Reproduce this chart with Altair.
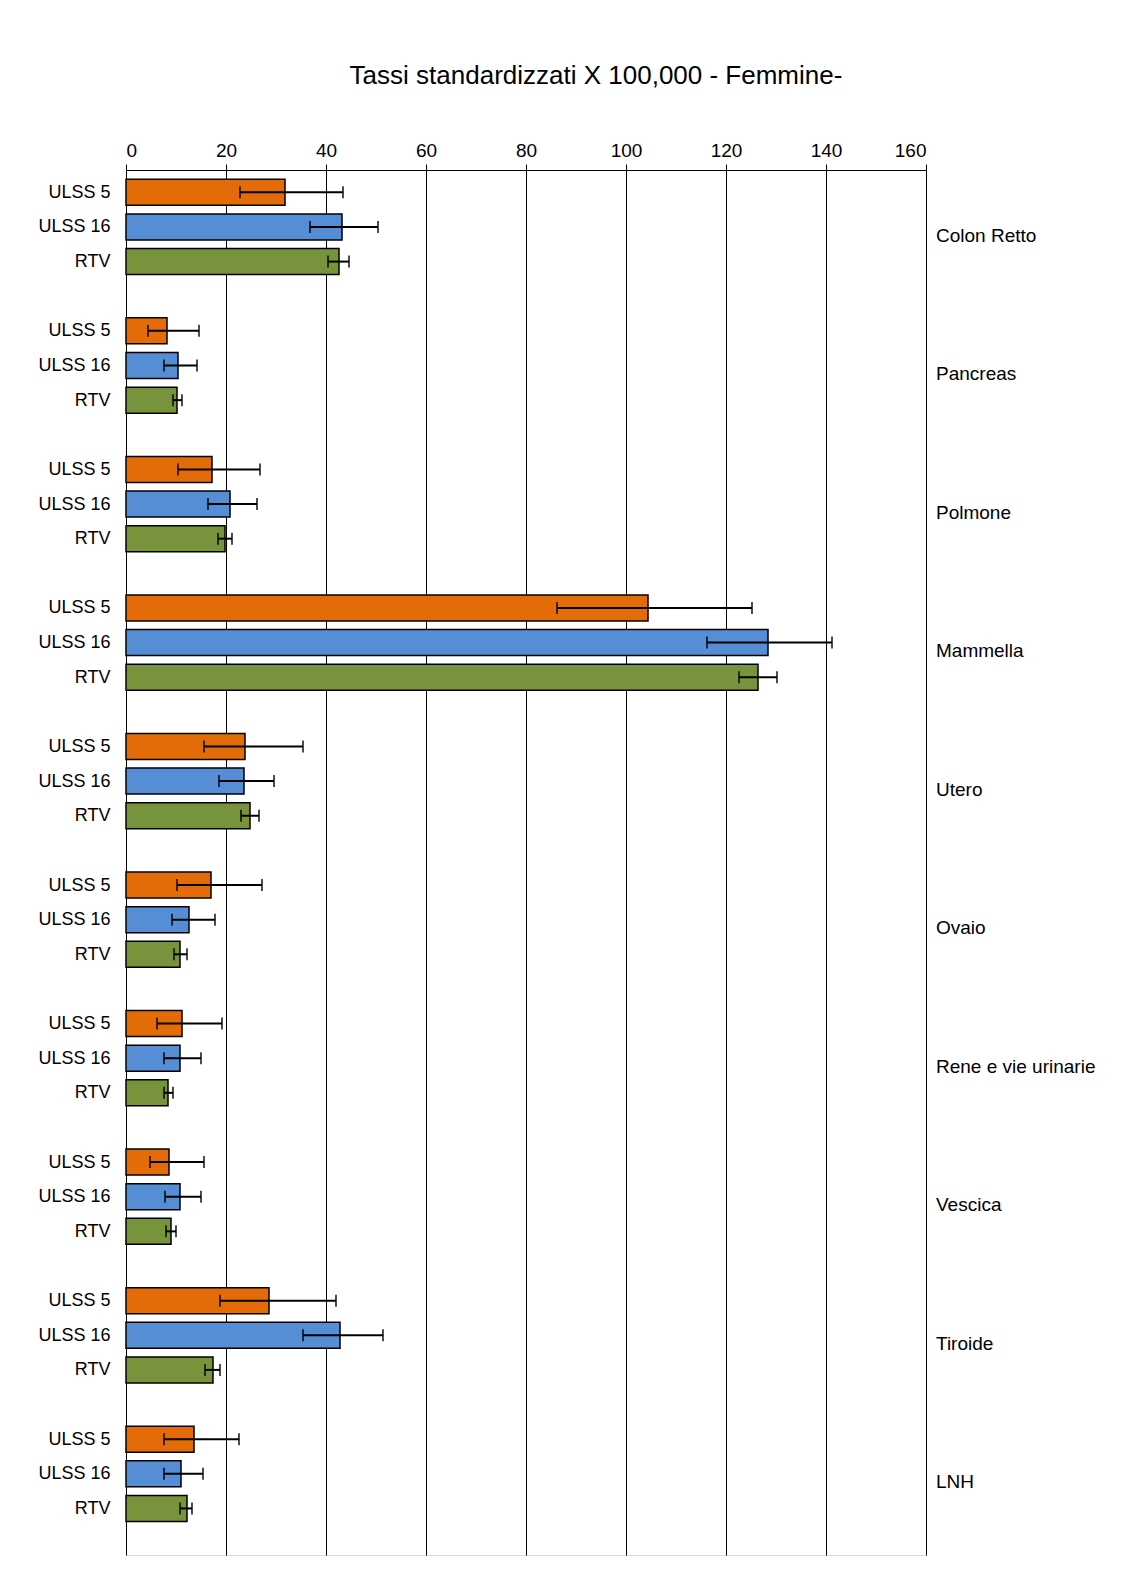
import pandas as pd
import altair as alt

sites = ["Colon Retto", "Pancreas", "Polmone", "Mammella", "Utero", "Ovaio",
         "Rene e vie urinarie", "Vescica", "Tiroide", "LNH"]
areas = ["ULSS 5", "ULSS 16", "RTV"]
colors = ["#E36C09", "#558ED5", "#77933C"]

rate = [31.8, 43.2, 42.6, 8.2, 10.4, 10.2, 17.2, 20.8, 19.8, 104.4, 128.4, 126.4,
        23.8, 23.6, 24.8, 17.0, 12.6, 10.8, 11.2, 10.8, 8.4, 8.6, 10.8, 9.0,
        28.6, 42.8, 17.4, 13.6, 11.0, 12.2]
low = [22.8, 36.8, 40.4, 4.4, 7.6, 9.4, 10.4, 16.4, 18.4, 86.2, 116.2, 122.6,
       15.6, 18.6, 23.0, 10.2, 9.2, 9.6, 6.2, 7.6, 7.6, 4.8, 7.8, 8.0,
       18.8, 35.4, 15.8, 7.6, 7.6, 10.8]
high = [43.4, 50.4, 44.6, 14.6, 14.2, 11.2, 26.8, 26.2, 21.2, 125.2, 141.2, 130.2,
        35.4, 29.6, 26.6, 27.2, 17.8, 12.2, 19.2, 15.0, 9.4, 15.6, 15.0, 10.0,
        42.0, 51.4, 18.8, 22.6, 15.4, 13.2]

rows = []
for i, s in enumerate(sites):
    for j, a in enumerate(areas):
        k = i * 3 + j
        rows.append({"site": s, "area": a, "slot": i * 4 + j, "zero": 0,
                     "rate": rate[k], "low": low[k], "high": high[k]})
df = pd.DataFrame(rows)
lab = pd.DataFrame({"site": sites, "slot": [i * 4 + 1.25 for i in range(len(sites))]})

ysc = alt.Scale(domain=[39.2, -0.5], nice=False, zero=False)
xscale = alt.Scale(domain=[0, 160], nice=False)
font = "Liberation Sans"

bars = alt.Chart(df).mark_bar(size=26, stroke="black", strokeWidth=1.5, orient="horizontal").encode(
    x=alt.X("rate:Q", scale=xscale, axis=alt.Axis(
        orient="top", values=list(range(0, 161, 20)), title=None,
        grid=True, gridColor="black", gridWidth=1, domainColor="black",
        tickColor="black", tickSize=6, labelFontSize=19, labelFont=font,
        labelColor="black", labelPadding=4)),
    x2="zero:Q",
    y=alt.Y("slot:Q", scale=ysc, axis=alt.Axis(
        values=df["slot"].tolist(), title=None, grid=False, domain=False,
        ticks=False, labelFontSize=18, labelFont=font,
        labelColor="black", labelPadding=16,
        labelExpr="datum.value % 4 == 0 ? 'ULSS 5' : (datum.value % 4 == 1 ? 'ULSS 16' : 'RTV')")),
    color=alt.Color("area:N", scale=alt.Scale(domain=areas, range=colors), legend=None),
)
err = alt.Chart(df).mark_rule(color="black", strokeWidth=2).encode(
    x="low:Q", x2="high:Q", y=alt.Y("slot:Q", scale=ysc))
caps_lo = alt.Chart(df).mark_tick(color="black", thickness=2, size=12, orient="vertical").encode(
    x="low:Q", y=alt.Y("slot:Q", scale=ysc))
caps_hi = alt.Chart(df).mark_tick(color="black", thickness=2, size=12, orient="vertical").encode(
    x="high:Q", y=alt.Y("slot:Q", scale=ysc))
labels = alt.Chart(lab).mark_text(align="left", fontSize=19, font=font, color="black", dx=8).encode(
    x=alt.value(802), y=alt.Y("slot:Q", scale=ysc), text="site:N")

chart = alt.layer(bars, err, caps_lo, caps_hi, labels).properties(
    width=800, height=1385,
    autosize=alt.AutoSizeParams(type="none"),
    padding={"left": 118, "top": 162, "right": 200, "bottom": 8},
    title=alt.Title("Tassi standardizzati  X 100,000 - Femmine-", fontSize=26,
                    font=font, fontWeight="normal", color="black", offset=52, dx=70),
).configure_view(stroke="black", strokeWidth=1.5).configure(background="white")

chart.save("out.html", embed_options={"renderer": "svg", "actions": False})
